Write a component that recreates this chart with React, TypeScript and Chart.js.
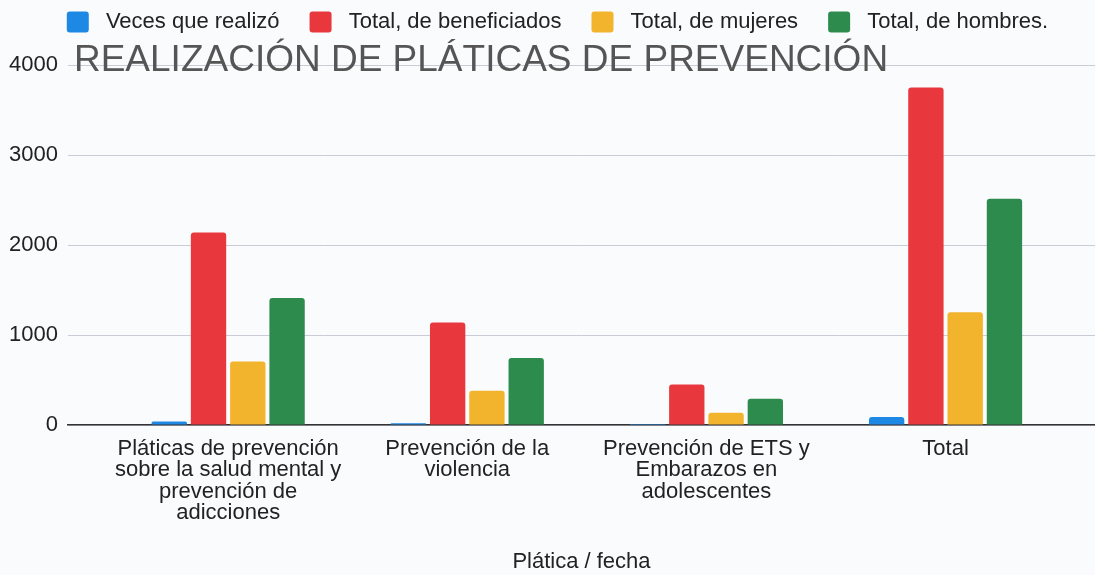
import React, { useEffect, useRef } from 'react';
import { Chart, registerables } from 'chart.js';

Chart.register(...registerables);

const TITLE = 'REALIZACIÓN DE PLÁTICAS DE PREVENCIÓN';
const X_TITLE = 'Plática / fecha';

const categories: string[][] = [
  ['Pláticas de prevención', 'sobre la salud mental y', 'prevención de', 'adicciones'],
  ['Prevención de la', 'violencia'],
  ['Prevención de ETS y', 'Embarazos en', 'adolescentes'],
  ['Total'],
];

const seriesNames = ['Veces que realizó', 'Total, de beneficiados', 'Total, de mujeres', 'Total, de hombres.'];
const veces = [40, 20, 10, 90];
const beneficiados = [2140, 1140, 450, 3750];
const mujeres = [705, 380, 136, 1253];
const hombres = [1410, 745, 292, 2513];
const seriesColors = ['#1e88e5', '#e8383d', '#f2b42c', '#2e8b4e'];

const yMin = 0;
const yMax = 4000;
const yStep = 1000;
const xMin = -0.670;
const xMax = 3.625;

const FONT = '"Liberation Sans", Arial, Helvetica, sans-serif';

const titleShift = {
  id: 'titleShift',
  afterLayout(chart: any) {
    const tb = chart.titleBlock;
    if (tb) {
      tb.left = chart.chartArea.left + 6;
    }
  },
};

export default function App() {
  const ref = useRef<HTMLCanvasElement>(null);

  useEffect(() => {
    document.body.style.margin = '0';
    const allSeries = [veces, beneficiados, mujeres, hombres];
    const chart = new Chart(ref.current as HTMLCanvasElement, {
      type: 'bar',
      data: {
        datasets: allSeries.map((vals, si) => ({
          label: seriesNames[si],
          data: vals.map((v, i) => ({ x: i, y: v })),
          backgroundColor: seriesColors[si],
          borderWidth: 0,
          borderRadius: 3,
          borderSkipped: 'bottom',
          categoryPercentage: 0.657,
          barPercentage: 0.9,
        })),
      },
      plugins: [titleShift],
      options: {
        responsive: false,
        animation: false,
        layout: { padding: { top: -19, left: -1, right: -21, bottom: 0 } },
        font: { family: FONT },
        plugins: {
          legend: {
            position: 'top',
            align: 'center',
            weight: 3000,
            labels: {
              color: '#222',
              font: { family: FONT, size: 22 },
              boxWidth: 22,
              boxHeight: 21,
              padding: 30,
              useBorderRadius: true,
              borderRadius: 3,
              generateLabels: (c: any) =>
                (Chart.defaults.plugins.legend.labels.generateLabels as any)(c).map((l: any) => ({
                  ...l,
                  text: ' ' + l.text,
                  lineWidth: 0,
                })),
            },
          },
          title: {
            display: true,
            text: TITLE,
            align: 'start',
            position: 'top',
            fullSize: false,
            weight: 2000,
            color: '#555',
            font: { family: FONT, size: 37, weight: 'normal', lineHeight: 1 },
            padding: { top: -1, bottom: -14 },
          },
          tooltip: { enabled: false },
        },
        scales: {
          x: {
            type: 'linear',
            min: xMin,
            max: xMax,
            offset: false,
            grid: { display: false, drawTicks: false },
            border: { display: true, color: '#333', width: 1.5 },
            afterBuildTicks: (scale: any) => {
              scale.ticks = categories.map((_, i) => ({ value: i }));
            },
            ticks: {
              autoSkip: false,
              maxRotation: 0,
              minRotation: 0,
              padding: 13,
              color: '#222',
              font: { family: FONT, size: 22, lineHeight: '21.4px' },
              callback: (v: any) => categories[Math.round(Number(v))] ?? '',
            },
            title: {
              display: true,
              text: X_TITLE,
              color: '#222',
              font: { family: FONT, size: 22 },
              padding: { top: 12, bottom: 0 },
            },
          },
          y: {
            min: yMin,
            max: yMax,
            grid: { color: '#c9ccd6', lineWidth: 1, drawTicks: false },
            border: { display: false },
            ticks: {
              stepSize: yStep,
              padding: 10,
              color: '#222',
              font: { family: FONT, size: 22 },
              callback: (v: any) => String(v),
            },
          },
        },
      } as any,
    });
    return () => chart.destroy();
  }, []);

  return (
    <div style={{ position: 'fixed', left: 0, top: 0, width: 1095, height: 575, background: '#fafbfd', overflow: 'hidden' }}>
      <canvas ref={ref} width={1095} height={575} style={{ display: 'block', width: 1095, height: 575 }} />
    </div>
  );
}
